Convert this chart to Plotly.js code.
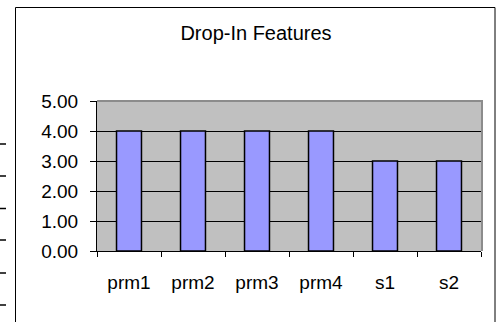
<!DOCTYPE html>
<html>
<head>
<meta charset="utf-8">
<script src="https://cdn.plot.ly/plotly-3.0.1.min.js"></script>
<style>
  html, body { margin: 0; padding: 0; background: #ffffff; }
  #chart { width: 504px; height: 322px; }
</style>
</head>
<body>
<div id="chart"></div>
<script>
// Drop-In feature scores per configuration
const categories = ['prm1', 'prm2', 'prm3', 'prm4', 's1', 's2'];
const scores = [4, 4, 4, 4, 3, 3];
const yTickValues = [0, 1, 2, 3, 4, 5];
const yTickLabels = ['0.00', '1.00', '2.00', '3.00', '4.00', '5.00'];

const FONT = 'Liberation Sans, Arial, sans-serif';

// plot area in pixels: x 97..481, y 101..251
const L = 97, R = 481, T = 101, B = 251;
const px = x => (x - L) / (R - L);
const py = y => (B - y) / (B - T);

const shapes = [];
// chart frame (left, top, right edges)
shapes.push({
  type: 'path', xref: 'paper', yref: 'paper',
  path: `M ${px(15.5)} ${py(340)} L ${px(15.5)} ${py(7.5)} L ${px(495)} ${py(7.5)} L ${px(495)} ${py(340)}`,
  line: { color: '#000000', width: 1 }
});
// grey plot-area border on top and right
shapes.push({
  type: 'path', xref: 'paper', yref: 'paper', layer: 'above',
  path: `M ${px(97)} ${py(101)} L ${px(482)} ${py(101)} L ${px(482)} ${py(251)}`,
  line: { color: '#8c8c8c', width: 2 }
});
// tick stubs of the neighbouring axis at the left edge
[144, 176, 208.5, 240, 273, 305].forEach(y => {
  shapes.push({
    type: 'line', xref: 'paper', yref: 'paper',
    x0: px(0), x1: px(6), y0: py(y), y1: py(y),
    line: { color: '#000000', width: 1.5 }
  });
});

const trace = {
  type: 'bar',
  x: categories,
  y: scores,
  marker: { color: '#9999ff', line: { color: '#000000', width: 1.5 } },
  hoverinfo: 'skip'
};

const layout = {
  width: 504, height: 322,
  margin: { l: L, r: 504 - R, t: T, b: 322 - B, pad: 0 },
  paper_bgcolor: '#ffffff',
  plot_bgcolor: '#c0c0c0',
  showlegend: false,
  bargap: 0.61,
  font: { family: FONT, color: '#000000', size: 18 },
  title: {
    text: 'Drop-In Features',
    font: { family: FONT, size: 20, color: '#000000' },
    xref: 'container', yref: 'container',
    x: 256 / 504, xanchor: 'center',
    y: 1 - 33 / 322, yanchor: 'middle'
  },
  xaxis: {
    type: 'category',
    tickson: 'boundaries',
    ticks: 'outside', ticklen: 5, tickwidth: 1, tickcolor: '#000000',
    showline: true, linecolor: '#000000', linewidth: 1,
    showgrid: false, zeroline: false,
    ticklabelstandoff: 14,
    tickfont: { family: FONT, size: 19, color: '#000000' },
    fixedrange: true
  },
  yaxis: {
    range: [0, 5],
    tickvals: yTickValues,
    ticktext: yTickLabels,
    ticks: 'outside', ticklen: 6, tickwidth: 1, tickcolor: '#000000',
    showline: true, linecolor: '#000000', linewidth: 1,
    showgrid: true, gridcolor: '#000000', gridwidth: 1,
    zeroline: false,
    ticklabelstandoff: 8,
    tickfont: { family: FONT, size: 19, color: '#000000' },
    fixedrange: true
  },
  shapes: shapes
};

Plotly.newPlot('chart', [trace], layout, { displayModeBar: false, staticPlot: true });
</script>
</body>
</html>
